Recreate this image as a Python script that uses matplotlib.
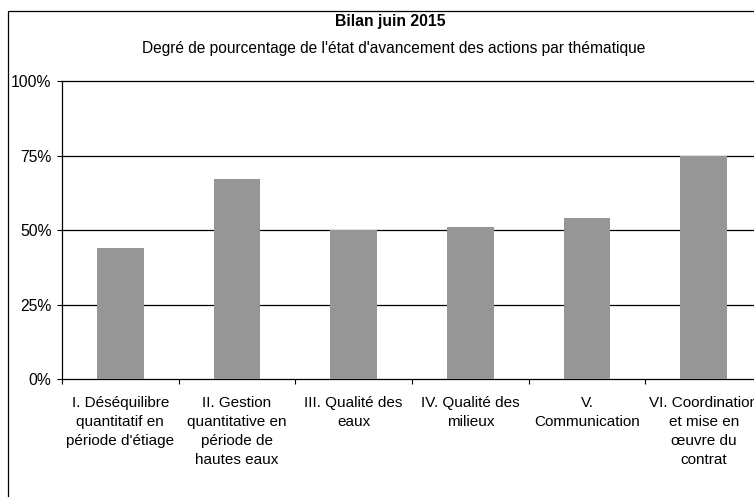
import matplotlib.pyplot as plt
from matplotlib.patches import Rectangle
from matplotlib.ticker import PercentFormatter, FixedLocator

plt.rcParams['font.family'] = ['Liberation Sans', 'DejaVu Sans']

# --- data ---
categories = [
    "I. Déséquilibre\nquantitatif en\npériode d'étiage",
    "II. Gestion\nquantitative en\npériode de\nhautes eaux",
    "III. Qualité des\neaux",
    "IV. Qualité des\nmilieux",
    "V.\nCommunication",
    "VI. Coordination\net mise en\nœuvre du\ncontrat",
]
avancement = [0.44, 0.67, 0.50, 0.51, 0.54, 0.75]
yticks = [0, 0.25, 0.5, 0.75, 1.0]

title = "Bilan juin 2015"
subtitle = "Degré de pourcentage de l'état d'avancement des actions par thématique"

W, H = 754, 497
fig = plt.figure(figsize=(W / 100, H / 100), dpi=100)

# cadre du graphique (coupé à droite et en bas, comme l'original)
fig.patches.append(Rectangle((8 / W, -0.2), 1.5, (H - 11) / H + 0.2,
                             transform=fig.transFigure, fill=False,
                             edgecolor='black', linewidth=0.9))

# axes: 0% a y=379, 100% a y=81, x de 62 a 762 px
ax = fig.add_axes([62 / W, (H - 379.3) / H, 700 / W, 298.3 / H])

x = range(len(categories))
ax.bar(x, avancement, width=0.4, color='#969696', zorder=3)

ax.set_xlim(-0.5, len(categories) - 0.5)
ax.set_ylim(0, 1)
ax.yaxis.set_major_locator(FixedLocator(yticks))
ax.yaxis.set_major_formatter(PercentFormatter(1.0, decimals=0))
ax.set_xticks(list(x))
ax.set_xticklabels(categories, linespacing=1.47)
ax.set_xticks([i - 0.5 for i in range(len(categories) + 1)], minor=True)

ax.tick_params(axis='x', which='major', length=0, pad=12, labelsize=11)
ax.tick_params(axis='x', which='minor', length=3.5, width=0.8, direction='out')
ax.tick_params(axis='y', length=3.5, width=0.8, pad=4, labelsize=11.3)

for y in yticks[1:]:
    ax.axhline(y, color='black', linewidth=0.9, zorder=1, clip_on=False)

for s in ['top', 'right']:
    ax.spines[s].set_visible(False)
ax.spines['left'].set_linewidth(0.9)
ax.spines['bottom'].set_linewidth(0.9)

fig.text(390 / W, (H - 21.5) / H, title, ha='center', va='center',
         fontsize=11.3, fontweight='bold')
fig.text(394 / W, (H - 48) / H, subtitle, ha='center', va='center',
         fontsize=11.2)

fig.savefig("out.png", dpi=100)
